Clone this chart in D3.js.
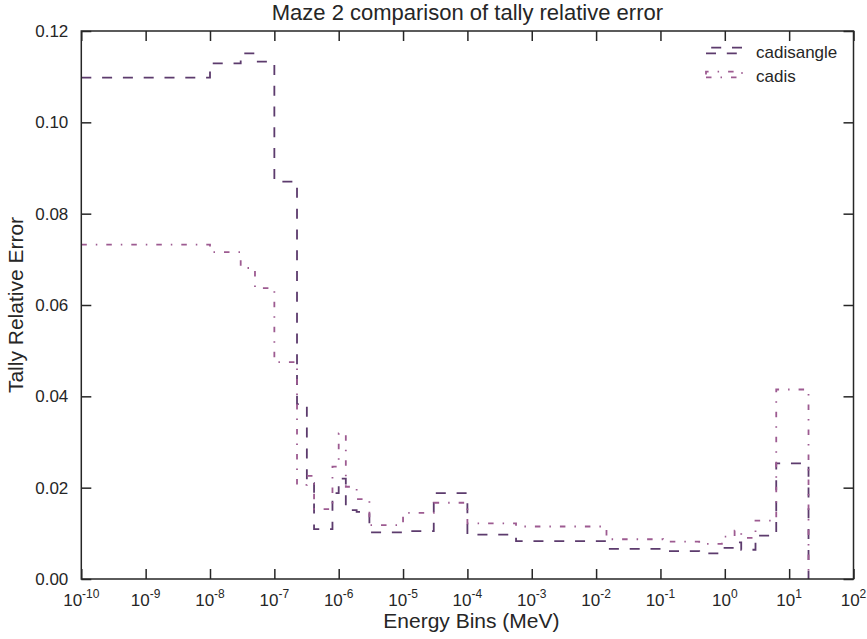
<!DOCTYPE html>
<html>
<head>
<meta charset="utf-8">
<script src="https://cdn.jsdelivr.net/npm/d3@7"></script>
<style>
  body { margin: 0; background: #fff; }
  svg { font-family: "Liberation Sans", Arial, sans-serif; }
</style>
</head>
<body>
<div id="chart"></div>
<script>
// bin edges (MeV) and per-bin relative errors
const edges = [1e-10, 1e-8, 3e-8, 5e-8, 1e-7, 2.25e-7, 3.2e-7, 4.14e-7, 8e-7, 1e-6,
  1.29e-6, 1.9e-6, 3e-6, 1e-5, 3e-5, 1e-4, 5.7e-4, 1.45e-2, 0.11, 0.4,
  0.9, 1.42, 1.8, 3, 6.3, 20];

const cadisangle = [0.1098, 0.1129, 0.1151, 0.1133, 0.0870, 0.0383, 0.0210, 0.0109, 0.0188, 0.0220,
  0.0151, 0.0147, 0.0102, 0.0105, 0.0188, 0.0097, 0.0083, 0.0066, 0.0061, 0.0056,
  0.0068, 0.0080, 0.0064, 0.0095, 0.0253];

const cadis = [0.0732, 0.0716, 0.0681, 0.0637, 0.0475, 0.0206, 0.0226, 0.0153, 0.0246, 0.0319,
  0.0202, 0.0175, 0.0118, 0.0145, 0.0167, 0.0122, 0.0115, 0.0087, 0.0082, 0.0077,
  0.0093, 0.0106, 0.0090, 0.0128, 0.0415];

const xExponents = d3.range(-10, 3);
const yTicks = [0, 0.02, 0.04, 0.06, 0.08, 0.10, 0.12];

const fullWidth = 867;
const fullHeight = 639;
const margin = { top: 31, right: 13.5, bottom: 60, left: 81.3 };

const width = fullWidth - margin.left - margin.right;
const height = fullHeight - margin.top - margin.bottom;

const svg = d3.select("#chart")
  .append("svg")
  .attr("width", fullWidth)
  .attr("height", fullHeight)
  .append("g")
  .attr("transform", `translate(${margin.left},${margin.top})`);

// Scales
const xScale = d3.scaleLog()
  .domain([1e-10, 1e2])
  .range([0, width]);

const yScale = d3.scaleLinear()
  .domain([0, 0.12])
  .range([height, 0]);

// Series
const series = [
  { name: "cadisangle", values: cadisangle, color: "#5c3b6d", dash: "10,10.8" },
  { name: "cadis", values: cadis, color: "#9d5b91", dash: "5.5,9,1.5,9" }
];

const line = d3.line()
  .curve(d3.curveStepAfter)
  .x(d => xScale(d[0]))
  .y(d => yScale(d[1]));

series.forEach(s => {
  const pts = s.values.map((v, i) => [edges[i], v]);
  pts.push([edges[edges.length - 1], 0]);
  svg.append("path")
    .datum(pts)
    .attr("fill", "none")
    .attr("stroke", s.color)
    .attr("stroke-width", 1.8)
    .attr("stroke-dasharray", s.dash)
    .attr("d", line);
});

// Axes (ticks inward on all four sides)
const tickColor = "#262626";
const tickLen = 10;
const xTickVals = xExponents.map(e => Math.pow(10, e));

svg.append("g")
  .attr("transform", `translate(0,${height})`)
  .call(d3.axisBottom(xScale).tickValues(xTickVals).tickSize(-tickLen).tickFormat(""))
  .call(g => g.select(".domain").remove());

svg.append("g")
  .call(d3.axisTop(xScale).tickValues(xTickVals).tickSize(-tickLen).tickFormat(""))
  .call(g => g.select(".domain").remove());

svg.append("g")
  .call(d3.axisLeft(yScale).tickValues(yTicks).tickSize(-tickLen).tickFormat(""))
  .call(g => g.select(".domain").remove());

svg.append("g")
  .attr("transform", `translate(${width},0)`)
  .call(d3.axisRight(yScale).tickValues(yTicks).tickSize(-tickLen).tickFormat(""))
  .call(g => g.select(".domain").remove());

svg.selectAll(".tick line")
  .attr("stroke", tickColor)
  .attr("stroke-width", 1.5);

// Frame
svg.append("rect")
  .attr("width", width)
  .attr("height", height)
  .attr("fill", "none")
  .attr("stroke", tickColor)
  .attr("stroke-width", 1.5);

// Tick labels
svg.selectAll(".ylab")
  .data(yTicks)
  .join("text")
  .attr("x", -13)
  .attr("y", d => yScale(d))
  .attr("dy", "0.36em")
  .attr("text-anchor", "end")
  .style("font-size", "17px")
  .attr("fill", tickColor)
  .text(d => d3.format(".2f")(d));

const xl = svg.selectAll(".xlab")
  .data(xExponents)
  .join("text")
  .attr("x", d => xScale(Math.pow(10, d)))
  .attr("y", height + 27)
  .attr("text-anchor", "middle")
  .style("font-size", "17px")
  .attr("fill", tickColor);
xl.append("tspan").text("10");
xl.append("tspan")
  .attr("dy", -8)
  .style("font-size", "12px")
  .text(d => d < 0 ? "-" + (-d) : String(d));

// Axis labels and title
svg.append("text")
  .attr("x", width / 2 + 4)
  .attr("y", height + 49)
  .attr("text-anchor", "middle")
  .style("font-size", "21px")
  .attr("fill", tickColor)
  .text("Energy Bins (MeV)");

svg.append("text")
  .attr("transform", "rotate(-90)")
  .attr("x", -height / 2)
  .attr("y", -58)
  .attr("text-anchor", "middle")
  .style("font-size", "21px")
  .attr("fill", tickColor)
  .text("Tally Relative Error");

svg.append("text")
  .attr("x", width / 2)
  .attr("y", -11)
  .attr("text-anchor", "middle")
  .style("font-size", "22px")
  .attr("fill", tickColor)
  .text("Maze 2 comparison of tally relative error");

// Legend (histogram-style box handles)
const legend = svg.append("g")
  .attr("transform", `translate(${706 - margin.left},${47.7 - margin.top})`);

series.forEach((s, i) => {
  const y0 = i * 24;
  const h = 5.6;
  const w = 36;
  legend.append("path")
    .attr("d", `M0,${y0 + h}H${w}V${y0}H0Z`)
    .attr("fill", "none")
    .attr("stroke", s.color)
    .attr("stroke-width", 1.8)
    .attr("stroke-dasharray", s.dash);
  legend.append("text")
    .attr("x", 50)
    .attr("y", y0 + 10.5)
    .style("font-size", "17px")
    .attr("fill", tickColor)
    .text(s.name);
});
</script>
</body>
</html>
